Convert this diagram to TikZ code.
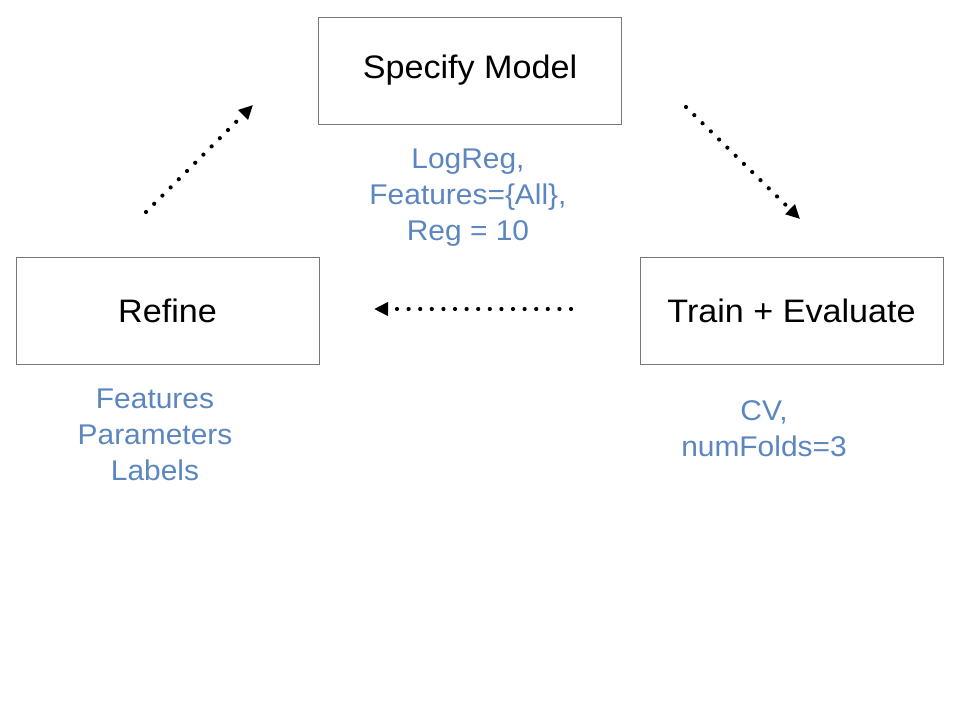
\documentclass[tikz,border=0pt]{standalone}
\usepackage{fontspec}
\setmainfont{Liberation Sans}[FakeStretch=1.05]
\usetikzlibrary{arrows.meta}
\definecolor{noteblue}{RGB}{92,134,192}
\definecolor{boxgray}{RGB}{120,120,120}
\begin{document}
\begin{tikzpicture}[x=1pt,y=-1pt,
  stagebox/.style={draw=boxgray,line width=0.9pt,minimum width=303pt,minimum height=107pt,inner sep=0pt,font=\fontsize{32.5}{38}\selectfont},
  note/.style={text=noteblue,align=center,font=\fontsize{28.5}{36}\selectfont},
  flow/.style={line width=4.2pt,line cap=round,dash pattern=on 0pt off 11.6pt,-{Triangle[length=14pt,width=13pt]}}]
\useasboundingbox (0,0) rectangle (960,720);
\fill[white] (0,0) rectangle (960,720);
\node[stagebox] (spec) at (470,70.5) {Specify Model};
\node[stagebox] (refine) at (167.5,310.5) {Refine};
\node[stagebox] (train) at (791.5,310.5) {Train + Evaluate};
\node[note] (specnote) at (468,198) {LogReg,\\Features=\{All\},\\Reg = 10};
\node[note] (refnote) at (155,435) {Features\\Parameters\\Labels};
\node[note] (trainnote) at (764,429) {CV,\\numFolds=3};
\coordinate (a1s) at (146,212);
\coordinate (a1e) at (253,105);
\coordinate (a2s) at (686,107);
\coordinate (a2e) at (800,219);
\coordinate (a3s) at (571,309);
\coordinate (a3e) at (374,309);
\draw[flow] (a1s) -- (a1e);
\draw[flow] (a2s) -- (a2e);
\draw[flow] (a3s) -- (a3e);
\end{tikzpicture}
\end{document}
